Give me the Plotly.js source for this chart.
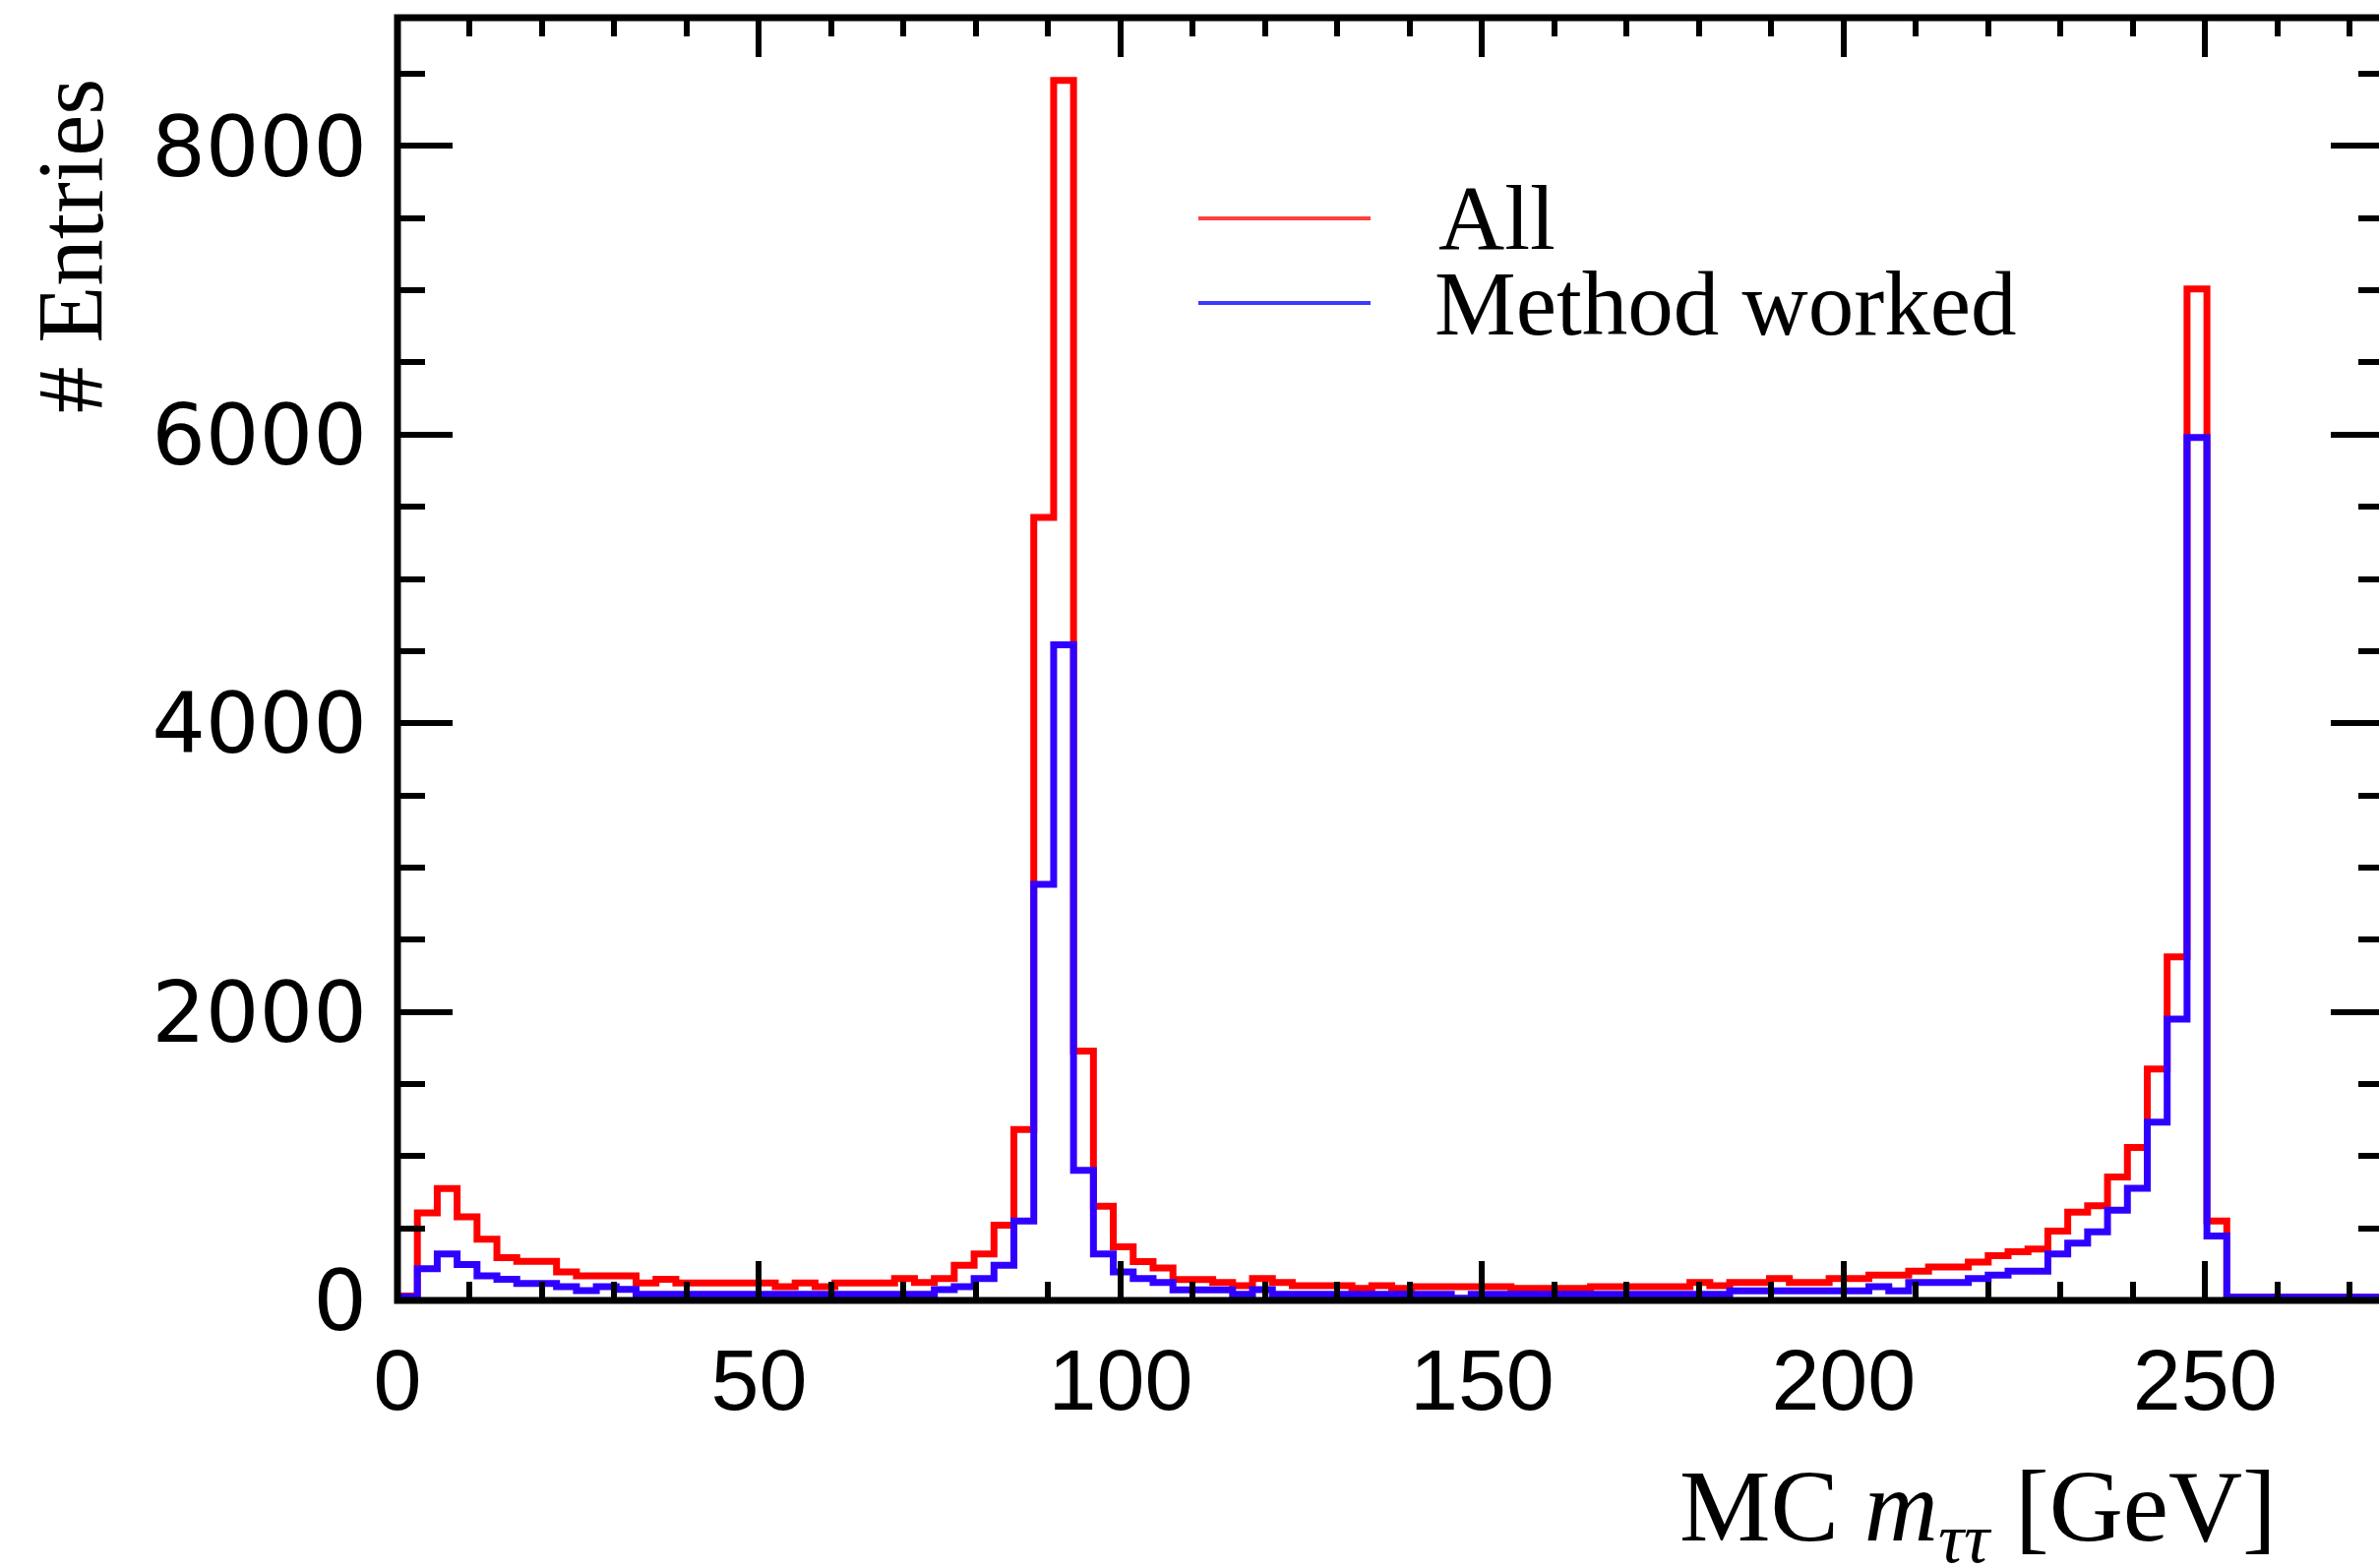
<!DOCTYPE html>
<html>
<head>
<meta charset="utf-8">
<script src="https://cdn.plot.ly/plotly-3.0.1.min.js"></script>
<style>
  html, body { margin: 0; padding: 0; background: #ffffff; overflow: hidden; }
  #chart { width: 2430px; height: 1594px; }
</style>
</head>
<body>
<div id="chart"></div>
<script>
// Histogram binning: 100 bins of 2.75 GeV from 0 to 275 GeV
const binWidth = 2.75;
const xMin = 0;

// "All" (red) entries per bin
const allCounts = [
  30, 607, 775, 579, 425, 296, 271, 271, 198, 171,
  171, 171, 121, 146, 121, 121, 121, 121, 121, 96,
  121, 96, 121, 121, 121, 152, 125, 152, 243, 322,
  522, 1185, 5426, 8455, 1728, 652, 372, 270, 225, 145,
  145, 125, 102, 152, 125, 102, 102, 102, 84, 102,
  84, 96, 96, 96, 96, 96, 84, 84, 84, 84,
  96, 96, 96, 96, 96, 125, 102, 125, 125, 152,
  125, 125, 152, 152, 175, 175, 202, 232, 232, 266,
  311, 338, 357, 481, 611, 656, 856, 1060, 1603, 2380,
  7010, 550, 22, 22, 22, 22, 22, 22, 22, 22
];

// "Method worked" (blue) entries per bin
const workedCounts = [
  25, 220, 322, 248, 171, 146, 118, 118, 96, 69,
  96, 77, 42, 42, 42, 42, 42, 42, 42, 42,
  42, 42, 42, 42, 42, 42, 42, 75, 95, 152,
  243, 550, 2884, 4544, 901, 322, 198, 152, 125, 73,
  73, 73, 43, 75, 43, 43, 43, 43, 43, 43,
  43, 43, 43, 16, 43, 43, 43, 43, 43, 43,
  43, 43, 43, 43, 43, 43, 43, 66, 66, 66,
  66, 66, 66, 66, 96, 66, 125, 125, 125, 152,
  175, 202, 202, 322, 397, 475, 625, 777, 1235, 1950,
  5980, 447, 22, 22, 22, 22, 22, 22, 22, 22
];

const seriesNames = ["All", "Method worked"];
const seriesColors = ["#ff0000", "#3000ff"];
const legendColors = ["#ff4040", "#3a3aff"];
const xTitle = "MC <i>m</i><sub><i>ττ</i></sub> [GeV]";
const yTitle = "# Entries";

function stepTrace(counts, name, color) {
  const x = [];
  const y = [];
  for (let i = 0; i < counts.length; i++) {
    x.push(xMin + i * binWidth);
    y.push(counts[i]);
  }
  x.push(xMin + counts.length * binWidth);
  y.push(counts[counts.length - 1]);
  return {
    type: "scatter", mode: "lines", name: name,
    x: x, y: y,
    line: { shape: "hv", color: color, width: 7 },
    hoverinfo: "skip"
  };
}

const traces = [
  stepTrace(allCounts, seriesNames[0], seriesColors[0]),
  stepTrace(workedCounts, seriesNames[1], seriesColors[1])
];

// pixel helpers for the plot area (layout positioning only)
const L = 404, R = 2425, T = 18, B = 1322;
const px = v => (v - L) / (R - L);
const py = v => (B - v) / (B - T);

const xTickFont = { family: "Liberation Sans, Arial, sans-serif", size: 88, color: "#000000" };
const yTickFont = { family: "DejaVu Sans, Liberation Sans, sans-serif", size: 86, color: "#000000" };
const serif = "Liberation Serif, Times New Roman, serif";

const layout = {
  width: 2430, height: 1594,
  margin: { l: L, r: 2430 - R, t: T, b: 1594 - B, pad: 0 },
  paper_bgcolor: "#ffffff", plot_bgcolor: "#ffffff",
  showlegend: false,
  xaxis: {
    range: [0, 275], tick0: 0, dtick: 50,
    ticks: "inside", ticklen: 40, tickwidth: 6, tickcolor: "#000000",
    mirror: "ticks", showline: false, showgrid: false, zeroline: false,
    tickfont: xTickFont, ticklabelstandoff: 22,
    minor: { dtick: 10, ticks: "inside", ticklen: 19, tickwidth: 6, tickcolor: "#000000", showgrid: false }
  },
  yaxis: {
    range: [0, 8889], tick0: 0, dtick: 2000,
    ticks: "inside", ticklen: 56, tickwidth: 6, tickcolor: "#000000",
    mirror: "ticks", showline: false, showgrid: false, zeroline: false,
    tickfont: yTickFont, ticklabelstandoff: 30,
    minor: { dtick: 500, ticks: "inside", ticklen: 28, tickwidth: 6, tickcolor: "#000000", showgrid: false }
  },
  shapes: [
    { type: "rect", xref: "paper", yref: "paper", x0: 0, x1: 1, y0: 0, y1: 1,
      line: { color: "#000000", width: 7 }, fillcolor: "rgba(0,0,0,0)", layer: "above" },
    { type: "line", xref: "paper", yref: "paper", x0: px(1218), x1: px(1393), y0: py(222), y1: py(222),
      line: { color: legendColors[0], width: 4 } },
    { type: "line", xref: "paper", yref: "paper", x0: px(1218), x1: px(1393), y0: py(308), y1: py(308),
      line: { color: legendColors[1], width: 4 } }
  ],
  annotations: [
    { text: seriesNames[0], xref: "paper", yref: "paper", x: px(1460), y: py(222),
      xanchor: "left", yanchor: "middle", showarrow: false,
      font: { family: serif, size: 93, color: "#000000" } },
    { text: seriesNames[1], xref: "paper", yref: "paper", x: px(1456), y: py(308),
      xanchor: "left", yanchor: "middle", showarrow: false,
      font: { family: serif, size: 93, color: "#000000" } },
    { text: xTitle, xref: "paper", yref: "paper", x: px(2316), y: py(1538),
      xanchor: "right", yanchor: "middle", showarrow: false,
      font: { family: serif, size: 104, color: "#000000" } },
    { text: yTitle, xref: "paper", yref: "paper", x: px(72), y: py(250),
      xanchor: "center", yanchor: "middle", textangle: -90, showarrow: false,
      font: { family: serif, size: 95, color: "#000000" } }
  ]
};

Plotly.newPlot("chart", traces, layout, { displayModeBar: false, staticPlot: true });
</script>
</body>
</html>
